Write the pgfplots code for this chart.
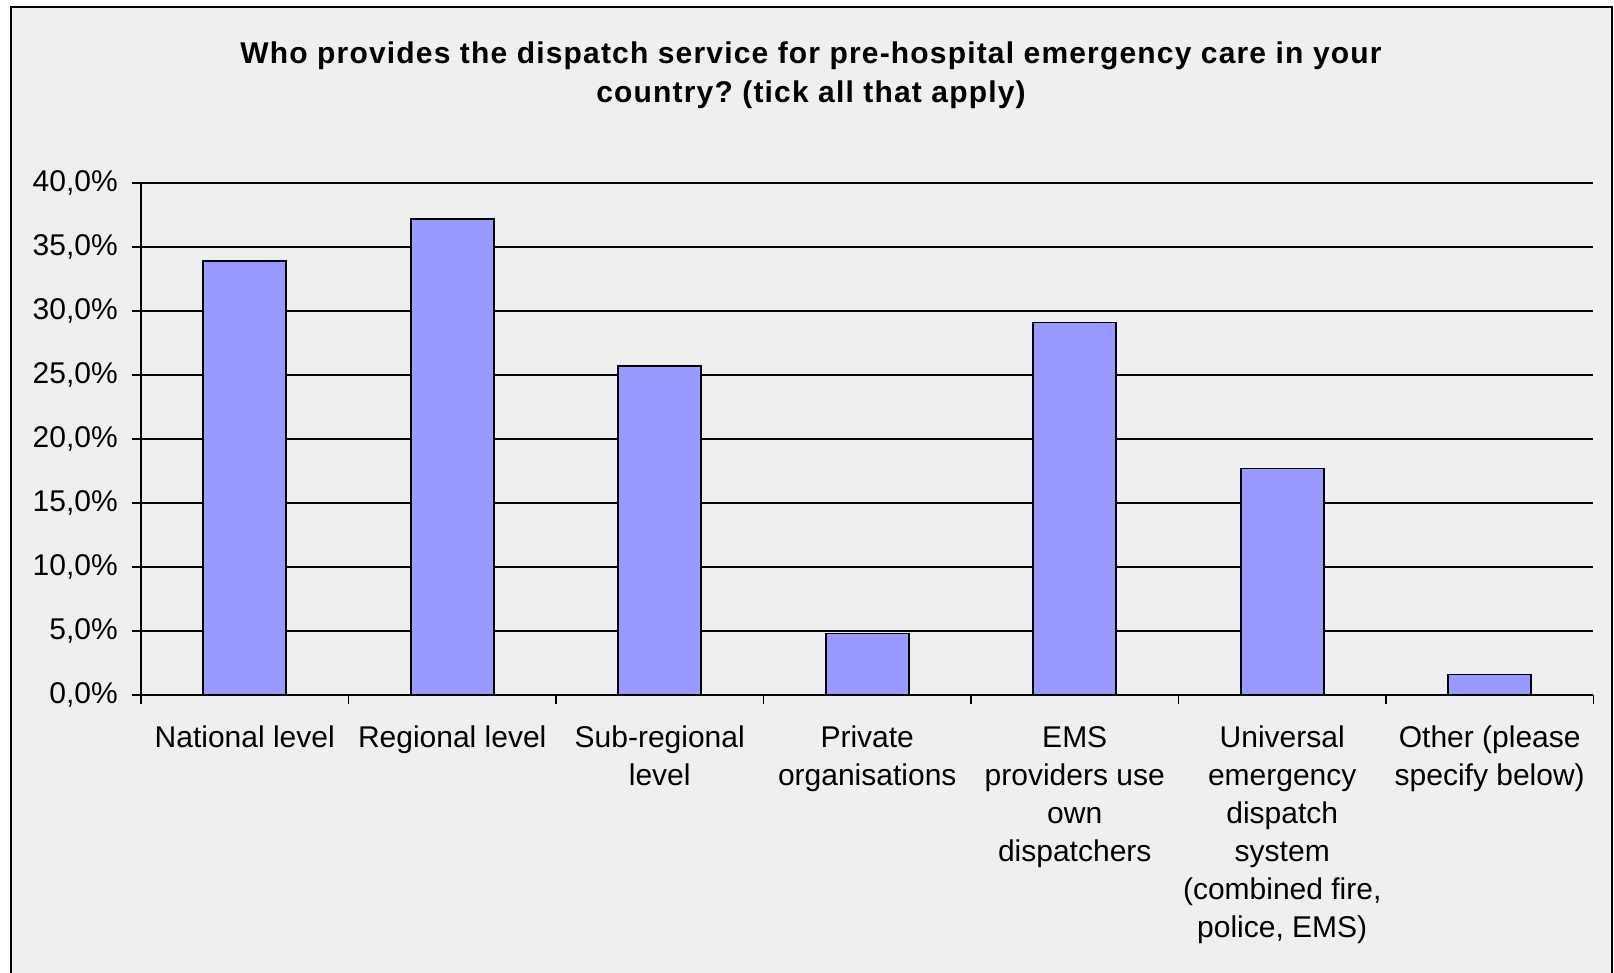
\documentclass[border=0pt]{standalone}
\usepackage{fontspec}
\setmainfont{Liberation Sans}
\usepackage{pgfplots}
\pgfplotsset{compat=1.18}
\definecolor{barfill}{HTML}{9999FF}
\definecolor{bg}{HTML}{EFEFEF}
\frenchspacing
\begin{document}
\begin{tikzpicture}
\path[use as bounding box] (0,0) rectangle (807pt,486.5pt);
\fill[bg] (5pt,-2pt) rectangle (806.5pt,483.5pt);
\draw[line width=1pt] (5.5pt,-2pt) -- (5.5pt,483pt) -- (806pt,483pt) -- (806pt,-2pt);
\begin{axis}[
  at={(70.5pt,139pt)}, anchor=south west,
  width=726.25pt, height=256pt, scale only axis,
  xmin=-0.5, xmax=6.5, ymin=0, ymax=40,
  axis x line*=bottom, axis y line*=left,
  axis line style={line width=1pt, -},
  ytick={0,5,...,40},
  yticklabels={{0,0\%},{5,0\%},{10,0\%},{15,0\%},{20,0\%},{25,0\%},{30,0\%},{35,0\%},{40,0\%}},
  ymajorgrids, major grid style={black, line width=0.9pt},
  tick align=outside, major tick length=4.6pt,
  ytick style={black, line width=0.75pt},
  xtick={0,...,6},
  xticklabels={{National level},{Regional level},{Sub-regional\\level},{Private\\organisations},{EMS\\providers use\\own\\dispatchers},{Universal\\emergency\\dispatch\\system\\(combined fire,\\police, EMS)},{Other (please\\specify below)}},
  xtick style={draw=none},
  extra x ticks={-0.5,0.5,...,6.5},
  extra x tick labels={},
  extra x tick style={xtick style={draw=black,line width=0.75pt}, grid=none},
  tick label style={font=\fontsize{15}{19}\selectfont},
  yticklabel style={xshift=-3.5pt},
  xticklabel style={align=center, anchor=north, yshift=-7.5pt},
  ybar, bar width=0.4,
]
\addplot[fill=barfill, draw=black, line width=0.8pt] coordinates {(0,33.9) (1,37.2) (2,25.7) (3,4.8) (4,29.1) (5,17.7) (6,1.6)};
\end{axis}
\node[font=\bfseries\fontsize{15}{19.5}\selectfont\addfontfeature{LetterSpace=3.9}, align=center] at (405.5pt,449pt) {Who provides the dispatch service for pre-hospital emergency care in your\\country? (tick all that apply)};
\end{tikzpicture}
\end{document}
